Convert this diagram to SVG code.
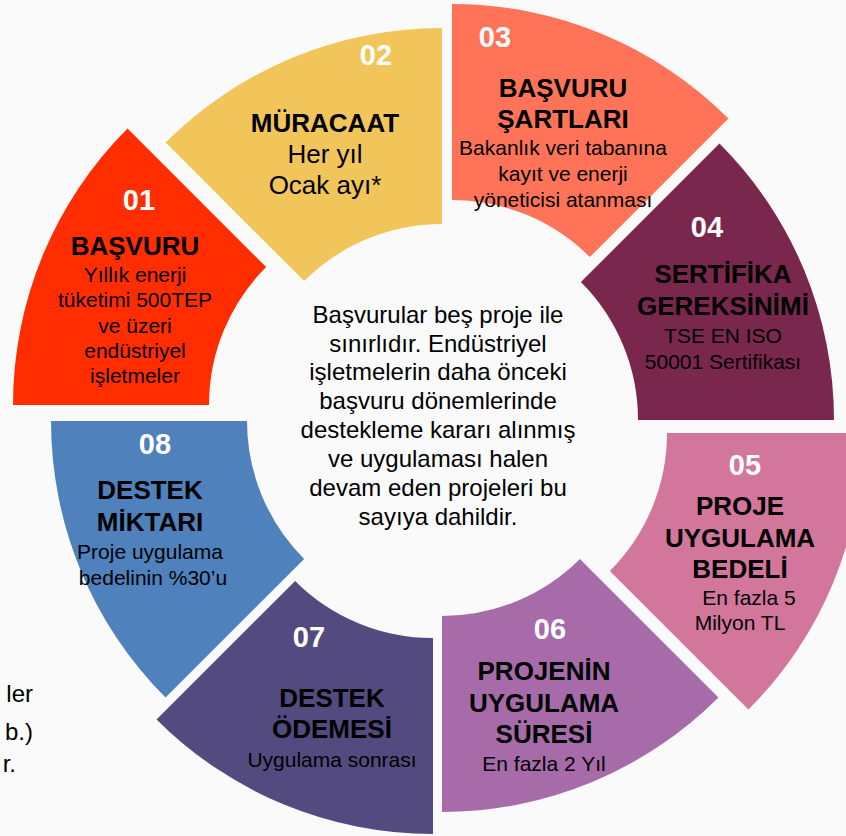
<svg xmlns="http://www.w3.org/2000/svg" width="846" height="836" viewBox="0 0 846 836">
<style>
text{font-family:"Liberation Sans",Arial,sans-serif;text-anchor:middle;fill:#000}
.num{font-size:29px;font-weight:bold;fill:#fff}
.ttl{font-size:26px;font-weight:bold}
.sub{font-size:21px}
.big{font-size:26px}
.ctr{font-size:24px}
.frag{font-size:24px;text-anchor:end}
</style>
<rect width="846" height="836" fill="#fafafa"/>
<g id="left-fragments">
<text class="frag" x="33" y="702">ler</text>
<text class="frag" x="33" y="740">b.)</text>
<text class="frag" x="16" y="772">r.</text>
</g>
<g id="connectors"/>
<g id="seg01">
<path d="M13,405 A391,391 0 0 1 127.52,128.52 L266.11,267.11 A195,195 0 0 0 209,405 Z" fill="#ff2d00"/>
<text class="num" x="139" y="210">01</text>
<text class="ttl" x="135" y="255">BAŞVURU</text>
<text class="sub" x="135" y="282">Yıllık enerji</text>
<text class="sub" x="135" y="307">tüketimi 500TEP</text>
<text class="sub" x="135" y="333">ve üzeri</text>
<text class="sub" x="135" y="358">endüstriyel</text>
<text class="sub" x="135" y="383">işletmeler</text>
</g>
<g id="seg02">
<path d="M165.52,142.52 A391,391 0 0 1 442,28 L442,224 A195,195 0 0 0 304.11,281.11 Z" fill="#f2c55b"/>
<text class="num" x="376" y="65">02</text>
<text class="ttl" x="325" y="132">MÜRACAAT</text>
<text class="big" x="325" y="163">Her yıl</text>
<text class="big" x="325" y="194">Ocak ayı*</text>
</g>
<g id="seg03">
<path d="M452,4 A391,391 0 0 1 728.48,118.52 L589.89,257.11 A195,195 0 0 0 452,200 Z" fill="#ff7458"/>
<text class="num" x="495" y="47">03</text>
<text class="ttl" x="563" y="97">BAŞVURU</text>
<text class="ttl" x="563" y="128">ŞARTLARI</text>
<text class="sub" x="563" y="155">Bakanlık veri tabanına</text>
<text class="sub" x="563" y="181">kayıt ve enerji</text>
<text class="sub" x="563" y="207">yöneticisi atanması</text>
</g>
<g id="seg04">
<path d="M719.48,143.52 A391,391 0 0 1 834,420 L638,420 A195,195 0 0 0 580.89,282.11 Z" fill="#7a274e"/>
<text class="num" x="707" y="237">04</text>
<text class="ttl" x="723" y="283">SERTİFİKA</text>
<text class="ttl" x="723" y="315">GEREKSİNİMİ</text>
<text class="sub" x="723" y="343">TSE EN ISO</text>
<text class="sub" x="723" y="369">50001 Sertifikası</text>
</g>
<g id="seg05">
<path d="M863,433 A391,391 0 0 1 748.48,709.48 L609.89,570.89 A195,195 0 0 0 667,433 Z" fill="#d3769c"/>
<text class="num" x="745" y="475">05</text>
<text class="ttl" x="740" y="515">PROJE</text>
<text class="ttl" x="740" y="547">UYGULAMA</text>
<text class="ttl" x="740" y="578">BEDELİ</text>
<text class="sub" x="749" y="605">En fazla 5</text>
<text class="sub" x="740" y="630">Milyon TL</text>
</g>
<g id="seg06">
<path d="M718.48,697.48 A391,391 0 0 1 442,812 L442,616 A195,195 0 0 0 579.89,558.89 Z" fill="#a66ba8"/>
<text class="num" x="550" y="639">06</text>
<text class="ttl" x="544" y="680">PROJENİN</text>
<text class="ttl" x="544" y="712">UYGULAMA</text>
<text class="ttl" x="544" y="743">SÜRESİ</text>
<text class="sub" x="544" y="771">En fazla 2 Yıl</text>
</g>
<g id="seg07">
<path d="M433,834 A391,391 0 0 1 156.52,719.48 L295.11,580.89 A195,195 0 0 0 433,638 Z" fill="#534b7f"/>
<text class="num" x="309" y="647">07</text>
<text class="ttl" x="332" y="707">DESTEK</text>
<text class="ttl" x="332" y="738">ÖDEMESİ</text>
<text class="sub" x="332" y="767">Uygulama sonrası</text>
</g>
<g id="seg08">
<path d="M165.52,697.48 A391,391 0 0 1 51,421 L247,421 A195,195 0 0 0 304.11,558.89 Z" fill="#4f81bd"/>
<text class="num" x="155" y="454">08</text>
<text class="ttl" x="150" y="499">DESTEK</text>
<text class="ttl" x="150" y="531">MİKTARI</text>
<text class="sub" x="150" y="559">Proje uygulama</text>
<text class="sub" x="153" y="585">bedelinin %30’u</text>
</g>
<g id="center">
<text class="ctr" x="438" y="323">Başvurular beş proje ile</text>
<text class="ctr" x="438" y="352">sınırlıdır. Endüstriyel</text>
<text class="ctr" x="438" y="380">işletmelerin daha önceki</text>
<text class="ctr" x="438" y="409">başvuru dönemlerinde</text>
<text class="ctr" x="438" y="438">destekleme kararı alınmış</text>
<text class="ctr" x="438" y="467">ve uygulaması halen</text>
<text class="ctr" x="438" y="496">devam eden projeleri bu</text>
<text class="ctr" x="438" y="525">sayıya dahildir.</text>
</g>
</svg>
